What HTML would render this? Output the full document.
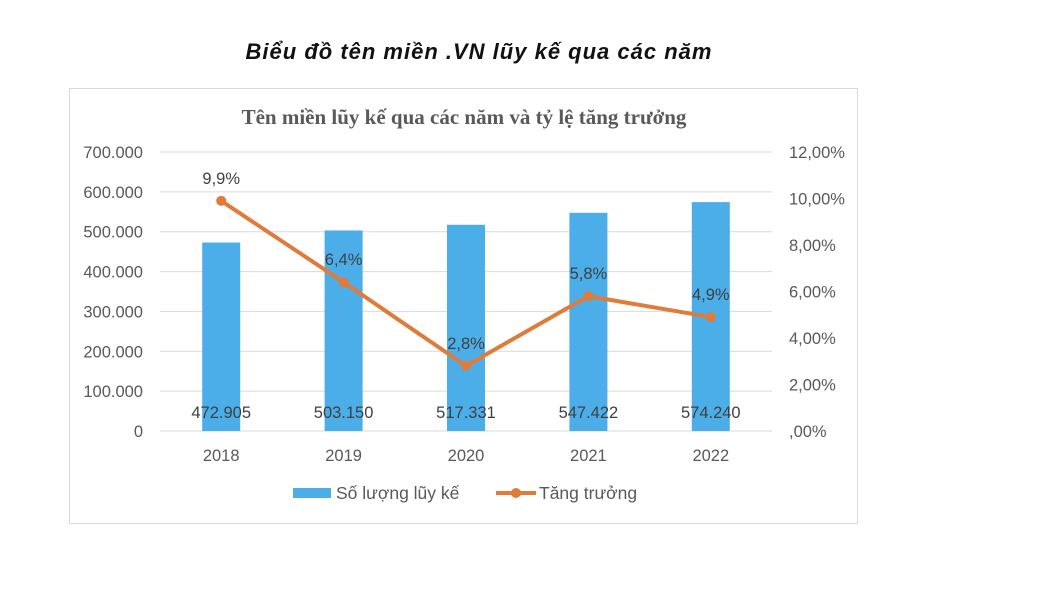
<!DOCTYPE html>
<html><head><meta charset="utf-8"><style>
body{margin:0;background:#fff;width:1042px;height:586px;overflow:hidden}
svg text{font-family:"Liberation Sans",sans-serif}
</style></head><body>
<svg width="1042" height="586">
<text x="479" y="59" text-anchor="middle" font-size="22" font-weight="bold" font-style="italic" letter-spacing="1" fill="#111">Biểu đồ tên miền .VN lũy kế qua các năm</text>
<rect x="69.5" y="88.5" width="788" height="435" fill="#fff" stroke="#d9d9d9"/>
<text x="464" y="124" text-anchor="middle" font-size="21" font-weight="bold" fill="#595959" style="font-family:'Liberation Serif',serif">Tên miền lũy kế qua các năm và tỷ lệ tăng trưởng</text>
<g id="grid"></g><g id="bars"></g><g id="line"></g><g id="labels"></g>
<g>
<rect x="293" y="488" width="38" height="10" fill="#4BAEE8"/>
<text x="336" y="499" font-size="17.5" fill="#595959">Số lượng lũy kế</text>
<line x1="496" y1="493" x2="536" y2="493" stroke="#E07B39" stroke-width="4"/>
<circle cx="516" cy="493" r="5" fill="#E07B39"/>
<text x="539" y="499" font-size="17.5" fill="#595959">Tăng trưởng</text>
</g>
</svg>
<script>
const categories=["2018","2019","2020","2021","2022"];
const totals=[472905,503150,517331,547422,574240];
const totalLabels=["472.905","503.150","517.331","547.422","574.240"];
const growth=[9.9,6.4,2.8,5.8,4.9];
const growthLabels=["9,9%","6,4%","2,8%","5,8%","4,9%"];
const leftTicks=[0,100000,200000,300000,400000,500000,600000,700000];
const leftTickLabels=["0","100.000","200.000","300.000","400.000","500.000","600.000","700.000"];
const rightTicks=[0,2,4,6,8,10,12];
const rightTickLabels=[",00%","2,00%","4,00%","6,00%","8,00%","10,00%","12,00%"];
const NS="http://www.w3.org/2000/svg";
const X0=160,X1=772,Y0=431,Y1=152;
const yL=v=>Y0-(v/700000)*(Y0-Y1);
const yR=v=>Y0-(v/12)*(Y0-Y1);
const step=(X1-X0)/categories.length;
const xC=i=>X0+step*(i+0.5);
function mk(tag,attrs,parent,txt){const e=document.createElementNS(NS,tag);for(const k in attrs)e.setAttribute(k,attrs[k]);if(txt!==undefined)e.textContent=txt;document.getElementById(parent).appendChild(e);return e;}
leftTicks.forEach((t,i)=>{
 const l=mk('line',{x1:X0,x2:X1,y1:yL(t),y2:yL(t),stroke:'#d9d9d9','stroke-width':1},'grid');
 
 
 const tx=mk('text',{x:143,y:yL(t)+6,'text-anchor':'end','font-size':16.5,fill:'#595959'},'grid',leftTickLabels[i]);
 
 
});
rightTicks.forEach((t,i)=>{
 const tx=mk('text',{x:789,y:yR(t)+6,'font-size':16.5,fill:'#595959'},'grid',rightTickLabels[i]);
 
 
});
categories.forEach((c,i)=>{
 const b=mk('rect',{x:xC(i)-19,y:yL(totals[i]),width:38,height:Y0-yL(totals[i]),fill:'#4BAEE8'},'bars');
 
 
 const tl=mk('text',{x:xC(i),y:418,'text-anchor':'middle','font-size':16.5,fill:'#404040'},'labels',totalLabels[i]);
 
 
 const cl=mk('text',{x:xC(i),y:461,'text-anchor':'middle','font-size':16.5,fill:'#595959'},'labels',c);
 
 
});
const pts=growth.map((g,i)=>xC(i)+','+yR(g)).join(' ');
const pl=mk('polyline',{points:pts,fill:'none',stroke:'#E07B39','stroke-width':4,'stroke-linejoin':'round'},'line');


growth.forEach((g,i)=>{
 const p=mk('circle',{cx:xC(i),cy:yR(g),r:5,fill:'#E07B39'},'line');
 
 
 const t=mk('text',{x:xC(i),y:yR(g)-17,'text-anchor':'middle','font-size':16.5,fill:'#404040'},'labels',growthLabels[i]);
 
 
});
</script>
</body></html>
